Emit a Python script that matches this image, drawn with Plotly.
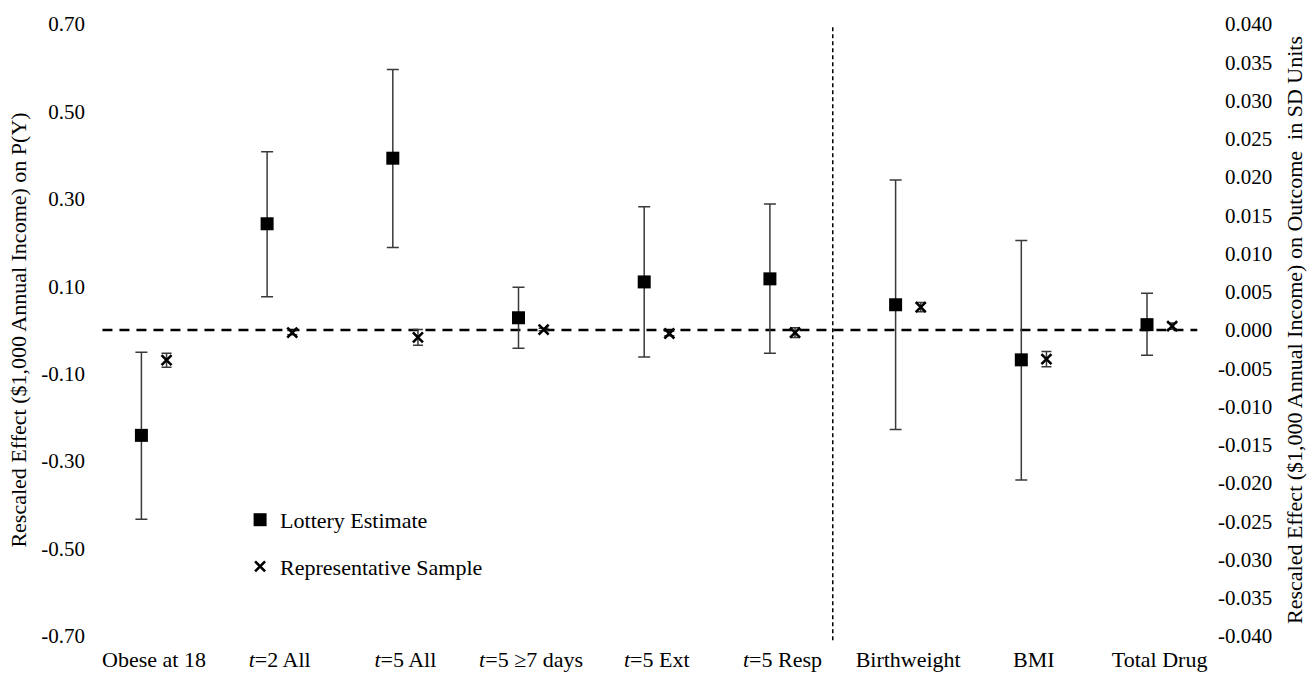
import numpy as np
import plotly.graph_objects as go

# ---------------- data ----------------
categories = ["Obese at 18", "t=2 All", "t=5 All", "t=5 \u22657 days", "t=5 Ext",
              "t=5 Resp", "Birthweight", "BMI", "Total Drug"]
tick_labels = ["Obese at 18", "<i>t</i>=2 All", "<i>t</i>=5 All", "<i>t</i>=5 \u22657 days",
               "<i>t</i>=5 Ext", "<i>t</i>=5 Resp", "Birthweight", "BMI", "Total Drug"]

# left axis group (effect on P(Y)): first six categories
lottery_py = [-0.241, 0.243, 0.393, 0.028, 0.110, 0.117]
lottery_py_hi = [-0.051, 0.408, 0.596, 0.098, 0.282, 0.288]
lottery_py_lo = [-0.433, 0.076, 0.189, -0.042, -0.062, -0.053]
rep_py = [-0.069, -0.006, -0.017, 0.001, -0.008, -0.006]
rep_py_hi = [-0.053, -0.001, 0.001, 0.004, -0.003, 0.005]
rep_py_lo = [-0.085, -0.011, -0.035, -0.002, -0.013, -0.017]

# right axis group (effect in SD units): last three categories
lottery_sd = [0.0033, -0.0039, 0.0007]
lottery_sd_hi = [0.0196, 0.0117, 0.0048]
lottery_sd_lo = [-0.0130, -0.0196, -0.0033]
rep_sd = [0.0030, -0.0038, 0.0005]
rep_sd_hi = [0.0036, -0.0028, 0.0009]
rep_sd_lo = [0.0024, -0.0048, 0.0001]

left_ticks = [-0.7, -0.5, -0.3, -0.1, 0.1, 0.3, 0.5, 0.7]
left_tick_text = ["-0.70", "-0.50", "-0.30", "-0.10", "0.10", "0.30", "0.50", "0.70"]
right_ticks = [round(-0.04 + 0.005 * k, 3) for k in range(17)]
# right-aligned look: pad non-negative labels by the width of the minus sign
right_tick_text = [("%.3f" % v) if v < 0 else ("\u2004%.3f" % v) for v in right_ticks]

# ---------------- figure ----------------
FONT = "Liberation Serif, Times New Roman, serif"
n_left = len(lottery_py)
idx_left = np.arange(n_left)
idx_right = np.arange(n_left, len(categories))
offset = 0.1


def err(est, lo, hi, w):
    est = np.array(est); lo = np.array(lo); hi = np.array(hi)
    return dict(type="data", symmetric=False, array=hi - est, arrayminus=est - lo,
                color="#3a3a3a", thickness=1.5, width=w)


sq = dict(symbol="square", size=13, color="black")
xm = dict(symbol="x-thin", size=10, color="black", line=dict(width=2.6, color="black"))

fig = go.Figure()
fig.add_trace(go.Scatter(x=idx_left - offset, y=lottery_py, mode="markers", marker=sq,
                         error_y=err(lottery_py, lottery_py_lo, lottery_py_hi, 6),
                         name="Lottery Estimate", legendgroup="lot", yaxis="y"))
fig.add_trace(go.Scatter(x=idx_right - offset, y=lottery_sd, mode="markers", marker=sq,
                         error_y=err(lottery_sd, lottery_sd_lo, lottery_sd_hi, 6),
                         name="Lottery Estimate", legendgroup="lot", showlegend=False,
                         yaxis="y2"))
fig.add_trace(go.Scatter(x=idx_left + offset, y=rep_py, mode="markers", marker=xm,
                         error_y=err(rep_py, rep_py_lo, rep_py_hi, 5),
                         name="Representative Sample", legendgroup="rep", yaxis="y"))
fig.add_trace(go.Scatter(x=idx_right + offset, y=rep_sd, mode="markers", marker=xm,
                         error_y=err(rep_sd, rep_sd_lo, rep_sd_hi, 5),
                         name="Representative Sample", legendgroup="rep", showlegend=False,
                         yaxis="y2"))

# zero reference line and group separator
fig.add_shape(type="line", xref="x", yref="y", x0=-0.41, x1=8.30, y0=0, y1=0,
              line=dict(color="black", width=2.5, dash="10px,7px"), layer="below")
fig.add_shape(type="line", xref="x", yref="paper", x0=n_left - 0.6, x1=n_left - 0.6,
              y0=-0.007, y1=0.995, line=dict(color="black", width=1.5, dash="4px,3px"))

fig.update_layout(
    width=1315, height=684,
    margin=dict(l=91, r=103, t=17, b=48),
    paper_bgcolor="white", plot_bgcolor="white",
    font=dict(family=FONT, size=21, color="black"),
    showlegend=True,
    legend=dict(x=0.133, y=0.224, xanchor="left", yanchor="top", bgcolor="rgba(0,0,0,0)",
                itemwidth=30, traceorder="grouped", tracegroupgap=15,
                font=dict(family=FONT, size=22, color="black")),
    xaxis=dict(range=[-0.501, 8.417], tickmode="array", tickvals=list(range(len(categories))),
               ticktext=tick_labels, showgrid=False, zeroline=False, showline=False,
               ticks="", tickfont=dict(family=FONT, size=22), ticklabelstandoff=8),
    yaxis=dict(range=[-0.7, 0.7], tickmode="array", tickvals=left_ticks, ticktext=left_tick_text,
               showgrid=False, zeroline=False, showline=False, ticks="",
               tickfont=dict(family=FONT, size=21), ticklabelstandoff=5,
               title=dict(text="Rescaled Effect ($1,000 Annual Income) on P(Y)",
                          font=dict(family=FONT, size=22), standoff=8)),
    yaxis2=dict(range=[-0.04, 0.04], tickmode="array", tickvals=right_ticks,
                ticktext=right_tick_text, overlaying="y", side="right",
                showgrid=False, zeroline=False, showline=False, ticks="",
                tickfont=dict(family=FONT, size=21), ticklabelstandoff=5,
                title=dict(text="Rescaled Effect ($1,000 Annual Income) on Outcome \u00a0in SD Units",
                           font=dict(family=FONT, size=22), standoff=15)),
)

fig.write_html("out.html", config={"displayModeBar": False},
               post_script="document.body.style.margin='0px';")
